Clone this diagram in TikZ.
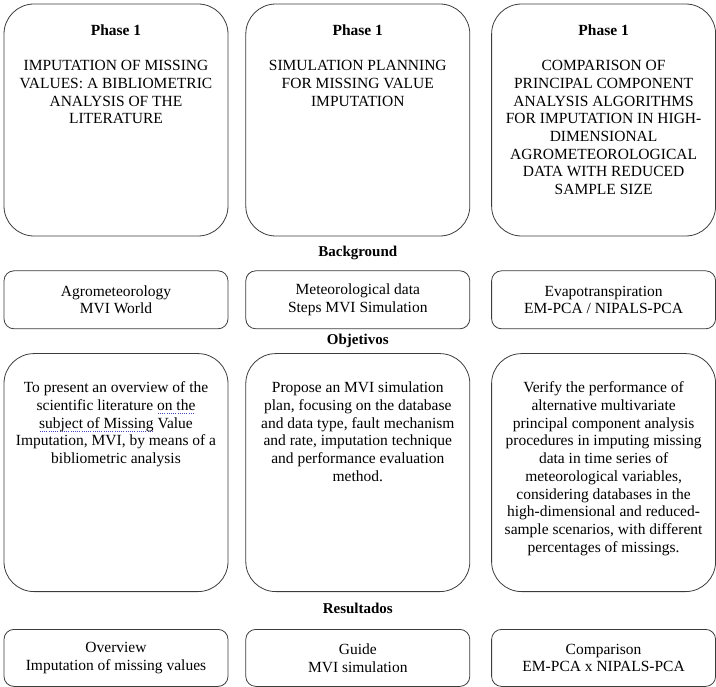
\documentclass[tikz,border=0pt]{standalone}
\usepackage{fontspec}
\setmainfont{Liberation Serif}
\usepackage{xcolor}
\usepackage{tikz}
\usetikzlibrary{positioning, calc}
\definecolor{spellblue}{RGB}{70,70,200}
\definecolor{edgegray}{RGB}{60,60,60}
% dotted spell-check mark under a few words
\newsavebox{\spellbox}
\newcommand{\spellmark}[1]{\leavevmode\sbox{\spellbox}{#1}\rlap{\hbox to \wd\spellbox{\color{spellblue}\leaders\hbox to 2.2pt{\hss\rule[-0.45ex]{0.9pt}{0.9pt}\hss}\hfill}}\usebox{\spellbox}}

\begin{document}
\begin{tikzpicture}[x=1pt, y=-1pt, font=\fontsize{15.5}{17.7}\selectfont,
    tallbox/.style={draw=edgegray, line width=0.8pt, rounded corners=30pt, minimum width=224pt},
    flatbox/.style={draw=edgegray, line width=0.8pt, rounded corners=10pt, minimum width=224pt, align=center},
    boxtext/.style={inner sep=0pt, align=center},
    rowlabel/.style={font=\fontsize{15}{17}\selectfont\bfseries}]
    \useasboundingbox (0,0) rectangle (716,687);

    % phases
    \node[tallbox, minimum height=232pt] (ph1) at (116,120) {};
    \node[tallbox, minimum height=232pt, right=17pt of ph1] (ph2) {};
    \node[tallbox, minimum height=232pt, right=21pt of ph2] (ph3) {};

    \node[boxtext, below=20.5pt of ph1.north] (ph1txt) {\textbf{Phase 1}\\[18pt]IMPUTATION OF MISSING\\VALUES: A BIBLIOMETRIC\\ANALYSIS OF THE\\LITERATURE};
    \node[boxtext, below=20.5pt of ph2.north] (ph2txt) {\textbf{Phase 1}\\[18pt]SIMULATION PLANNING\\FOR MISSING VALUE\\IMPUTATION};
    \node[boxtext, below=20.5pt of ph3.north] (ph3txt) {\textbf{Phase 1}\\[18pt]COMPARISON OF\\PRINCIPAL COMPONENT\\ANALYSIS ALGORITHMS\\FOR IMPUTATION IN HIGH-\\DIMENSIONAL\\AGROMETEOROLOGICAL\\DATA WITH REDUCED\\SAMPLE SIZE};

    % background
    \node[flatbox, minimum height=58pt, below=34pt of ph1] (bg1) {Agrometeorology\\MVI World};
    \node[flatbox, minimum height=58pt, below=34pt of ph2] (bg2) {Meteorological data\\Steps MVI Simulation};
    \node[flatbox, minimum height=58pt, below=34pt of ph3] (bg3) {Evapotranspiration\\EM-PCA / NIPALS-PCA};
    \node[rowlabel] (bglabel) at ($(ph2.south)!0.5!(bg2.north)$) {Background};

    % objectives
    \node[tallbox, minimum height=238pt, below=24pt of bg1] (obj1) {};
    \node[tallbox, minimum height=238pt, below=24pt of bg2] (obj2) {};
    \node[tallbox, minimum height=238pt, below=24pt of bg3] (obj3) {};
    \node[rowlabel] (objlabel) at ($(bg2.south)!0.5!(obj2.north)$) {Objetivos};

    \node[boxtext, below=28.5pt of obj1.north] (obj1txt) {To present an overview of the\\scientific literature \spellmark{on the}\\\spellmark{subject of Missing} Value\\Imputation, MVI, by means of a\\bibliometric analysis};
    \node[boxtext, below=28.5pt of obj2.north] (obj2txt) {Propose an MVI simulation\\plan, focusing on the database\\and data type, fault mechanism\\and rate, imputation technique\\and performance evaluation\\method.};
    \node[boxtext, below=28.5pt of obj3.north] (obj3txt) {Verify the performance of\\alternative multivariate\\principal component analysis\\procedures in imputing missing\\data in time series of\\meteorological variables,\\considering databases in the\\high-dimensional and reduced-\\sample scenarios, with different\\percentages of missings.};

    % results
    \node[flatbox, minimum height=57pt, below=37pt of obj1] (res1) {Overview\\Imputation of missing values};
    \node[flatbox, minimum height=57pt, below=37pt of obj2] (res2) {Guide\\MVI simulation};
    \node[flatbox, minimum height=57pt, below=37pt of obj3] (res3) {Comparison\\EM-PCA x NIPALS-PCA};
    \node[rowlabel, yshift=2pt] (reslabel) at ($(obj2.south)!0.5!(res2.north)$) {Resultados};
\end{tikzpicture}
\end{document}
